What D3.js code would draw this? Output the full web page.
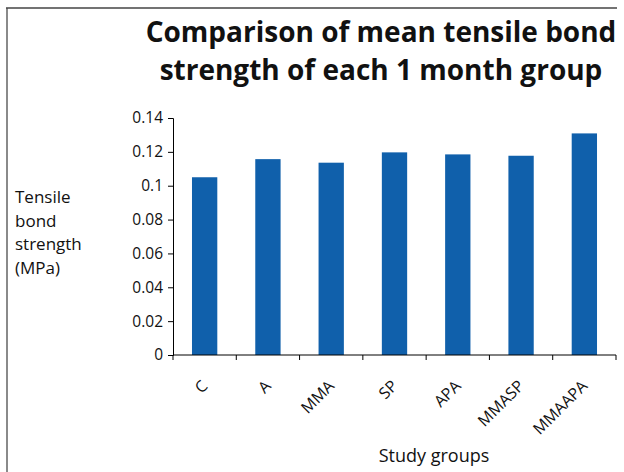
<!DOCTYPE html>
<html>
<head>
<meta charset="utf-8">
<script src="https://cdn.jsdelivr.net/npm/d3@7"></script>
<style>
  body { margin: 0; background: #fff; }
  svg text { font-family: "Open Sans", "Noto Sans", sans-serif; fill: #111; }
</style>
</head>
<body>
<div id="chart"></div>
<script>
// data
var groups = ["C", "A", "MMA", "SP", "APA", "MMASP", "MMAAPA"];
var meanStrength = [0.105, 0.1157, 0.1136, 0.1197, 0.1185, 0.1177, 0.1309];
var yTicks = [0, 0.02, 0.04, 0.06, 0.08, 0.1, 0.12, 0.14];
var titleLines = ["Comparison of mean tensile bond", "strength of each 1 month group"];
var yLabelLines = ["Tensile", "bond", "strength", "(MPa)"];

var width = 624, height = 472;
var margin = { top: 118, right: 8, bottom: 117, left: 173 };

var svg = d3.select("#chart").append("svg")
    .attr("width", width)
    .attr("height", height);

// frame: left and top edges only
svg.append("line").attr("x1", 7).attr("x2", 7).attr("y1", 8).attr("y2", height)
    .attr("stroke", "#8a8a8a").attr("stroke-width", 2);
svg.append("line").attr("x1", 6).attr("x2", 617).attr("y1", 8).attr("y2", 8)
    .attr("stroke", "#444").attr("stroke-width", 1.5);

var x = d3.scaleBand()
    .domain(groups)
    .range([margin.left, width - margin.right])
    .padding(0);

var y = d3.scaleLinear()
    .domain([0, 0.14])
    .range([height - margin.bottom, margin.top]);

// bars, 40% of category width
var barW = x.bandwidth() * 0.4;
svg.selectAll("rect.bar")
    .data(groups)
    .enter()
    .append("rect")
    .attr("class", "bar")
    .attr("x", function(d) { return x(d) + (x.bandwidth() - barW) / 2; })
    .attr("y", function(d, i) { return y(meanStrength[i]); })
    .attr("width", barW)
    .attr("height", function(d, i) { return y(0) - y(meanStrength[i]); })
    .attr("fill", "#1060ab");

// y axis
var yAxis = svg.append("g")
    .attr("transform", "translate(" + margin.left + ",0)")
    .call(d3.axisLeft(y).tickValues(yTicks).tickSize(5).tickPadding(5)
        .tickFormat(function(d) { return d === 0 ? "0" : String(+d.toFixed(2)); }));
yAxis.selectAll("text").style("font-size", "15.5px");

// x axis with ticks between categories
var xAxis = svg.append("g")
    .attr("transform", "translate(0," + y(0) + ")");
xAxis.append("line")
    .attr("x1", margin.left).attr("x2", width - margin.right)
    .attr("stroke", "#000");
xAxis.selectAll("line.tick")
    .data(groups)
    .enter()
    .append("line")
    .attr("class", "tick")
    .attr("x1", function(d) { return x(d) + x.bandwidth(); })
    .attr("x2", function(d) { return x(d) + x.bandwidth(); })
    .attr("y1", 0).attr("y2", 5)
    .attr("stroke", "#000");
xAxis.append("line")
    .attr("x1", margin.left).attr("x2", margin.left)
    .attr("y1", 0).attr("y2", 5)
    .attr("stroke", "#000");

// rotated category labels
svg.selectAll("text.cat")
    .data(groups)
    .enter()
    .append("text")
    .attr("class", "cat")
    .attr("transform", function(d) {
        return "translate(" + (x(d) + x.bandwidth() / 2 + 4) + "," + (y(0) + 32) + ") rotate(-45)";
    })
    .attr("text-anchor", "end")
    .style("font-size", "16px")
    .text(function(d) { return d; });

// x axis title
svg.append("text")
    .attr("x", 434).attr("y", 462)
    .attr("text-anchor", "middle")
    .style("font-size", "18px")
    .text("Study groups");

// y axis title
svg.append("g").selectAll("text")
    .data(yLabelLines)
    .enter()
    .append("text")
    .attr("x", 15)
    .attr("y", function(d, i) { return 203 + i * 23.5; })
    .style("font-size", "17px")
    .text(function(d) { return d; });

// chart title
svg.append("g").selectAll("text")
    .data(titleLines)
    .enter()
    .append("text")
    .attr("x", 381)
    .attr("y", function(d, i) { return 42 + i * 38; })
    .attr("text-anchor", "middle")
    .style("font-size", "28px")
    .style("font-weight", "bold")
    .text(function(d) { return d; });
</script>
</body>
</html>
